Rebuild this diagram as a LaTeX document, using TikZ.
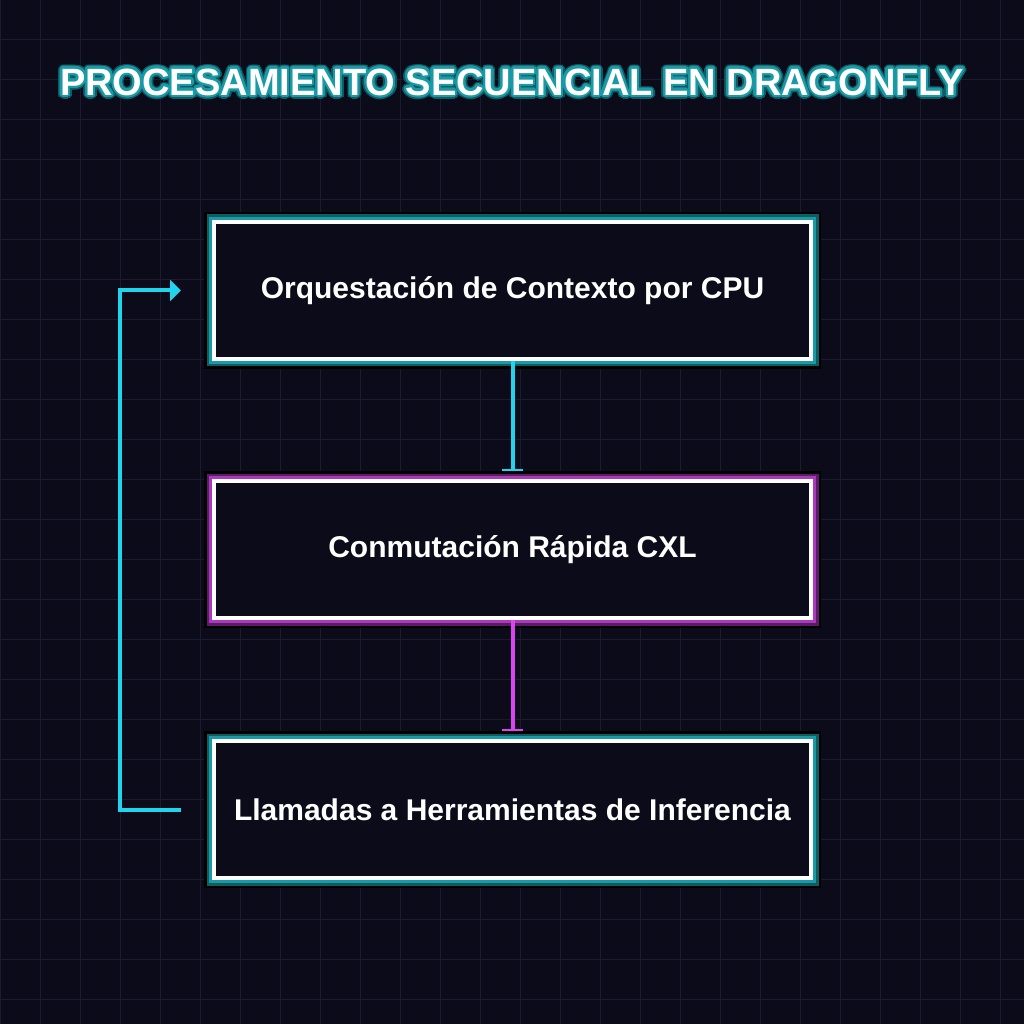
\documentclass[tikz,border=0pt]{standalone}
\usepackage{fontspec}
\setmainfont{Liberation Sans}
\usetikzlibrary{arrows.meta}

\definecolor{bgdark}{HTML}{0B0B19}
\definecolor{gridline}{HTML}{1B1A30}
\definecolor{neoncyan}{HTML}{22D3EE}
\definecolor{neonpink}{HTML}{D946EF}
\definecolor{glowteal}{HTML}{1A9AA6}
\definecolor{glowtealdark}{HTML}{0F5C63}
\definecolor{glowpink}{HTML}{A83CB8}
\definecolor{glowpinkdark}{HTML}{5E1A6A}

\tikzset{
  stagebox/.style={draw=white, line width=4pt, fill=bgdark, text=white,
    font=\fontsize{30}{36}\selectfont\bfseries,
    minimum width=597pt, minimum height=137pt, inner sep=0pt, outer sep=2pt,
    preaction={draw=black, line width=20pt},
    preaction={draw=#1dark, line width=15pt},
    preaction={draw=#1, line width=10pt}},
  titletext/.style={font=\fontsize{38}{44}\selectfont\bfseries, inner sep=0pt},
  flow/.style={line width=4pt, shorten >=8pt, -{Bar[width=21pt, line width=2.5pt]}},
  loopback/.style={draw=neoncyan, line width=4pt, shorten <=31pt, shorten >=31pt,
    -{Triangle[width=21pt, length=11pt]}}
}

\begin{document}
\begin{tikzpicture}[x=1pt,y=1pt]
\useasboundingbox (0,0) rectangle (1024,1024);
\fill[bgdark] (0,0) rectangle (1024,1024);
% grid
\foreach \k in {0,...,25}{
  \draw[gridline, line width=1pt] (40*\k,0) -- (40*\k,1024);
  \draw[gridline, line width=1pt] (0,1024-40*\k) -- (1024,1024-40*\k);
}

% title with glow
\foreach \a in {0,15,...,345}
  \path (512,942) ++(\a:4pt) node[titletext, text=glowtealdark] (tg\a) {PROCESAMIENTO SECUENCIAL EN DRAGONFLY};
\foreach \a in {0,15,...,345}
  \path (512,942) ++(\a:2.2pt) node[titletext, text=glowteal] (tt\a) {PROCESAMIENTO SECUENCIAL EN DRAGONFLY};
\node[titletext, text=white] (title) at (512,942) {PROCESAMIENTO SECUENCIAL EN DRAGONFLY};

% stages
\node[stagebox=glowteal] (cpu) at (512.5,733.5) {Orquestación de Contexto por CPU};
\node[stagebox=glowpink] (cxl) at (512.5,474) {Conmutación Rápida CXL};
\node[stagebox=glowteal] (tools) at (512.5,214) {Llamadas a Herramientas de Inferencia};

\draw[flow, neoncyan] (cpu.south) -- (cxl.north);
\draw[flow, neonpink] (cxl.south) -- (tools.north);

% back to the start
\draw[loopback] (tools.west) -- ++(-92,0) |- (cpu.west);
\end{tikzpicture}
\end{document}
